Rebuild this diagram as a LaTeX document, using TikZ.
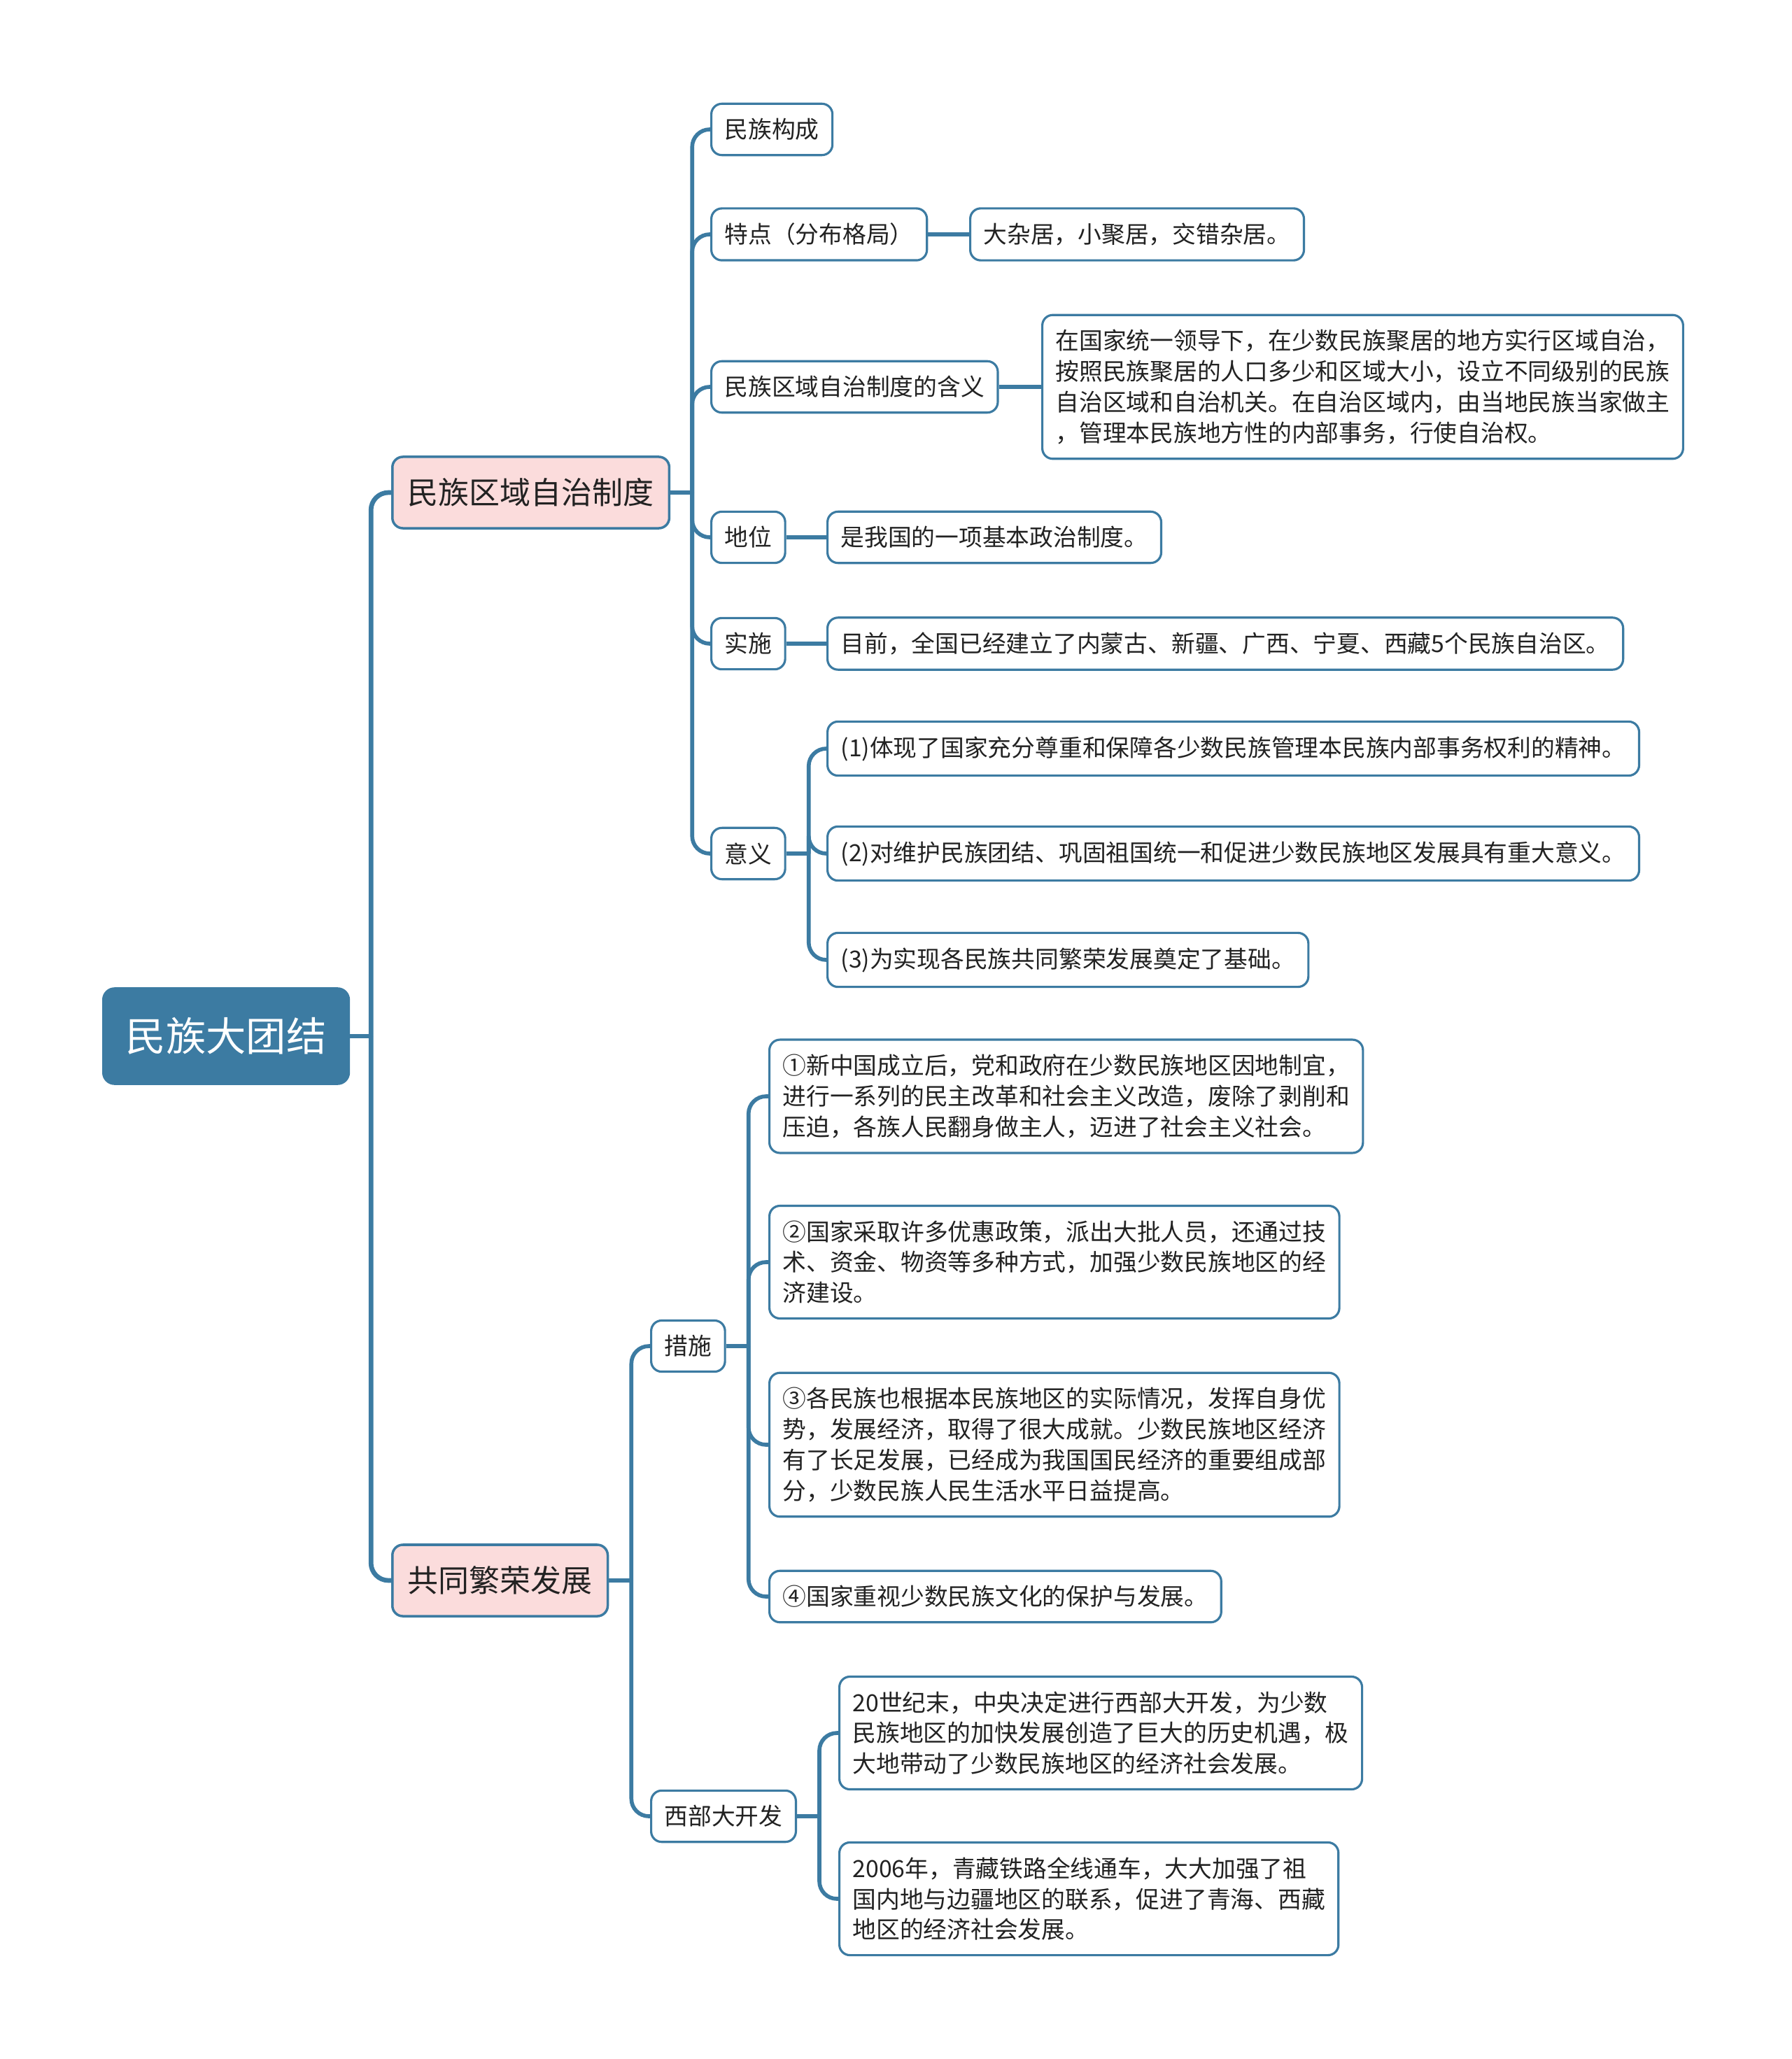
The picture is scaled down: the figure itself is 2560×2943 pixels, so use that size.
\documentclass[tikz,border=0pt]{standalone}
\usepackage{fontspec}
\setmainfont{Noto Sans CJK SC}
\usetikzlibrary{positioning}
\definecolor{mapblue}{RGB}{60,123,162}
\definecolor{mappink}{RGB}{251,220,220}
\definecolor{maptext}{RGB}{34,34,34}

\tikzset{
  rootbox/.style={draw=mapblue, fill=mapblue, text=white, rounded corners=0.16cm,
                  line width=1pt, font=\fontsize{16.3}{20}\selectfont,
                  inner xsep=0.32cm, minimum height=1.36cm, anchor=west},
  topicbox/.style={draw=mapblue, fill=mappink, text=maptext, rounded corners=0.15cm,
                   line width=1pt, font=\fontsize{12.5}{15}\selectfont,
                   inner xsep=0.22cm, minimum height=1.02cm, anchor=west},
  leafbox/.style={draw=mapblue, fill=white, text=maptext, rounded corners=0.15cm,
                  line width=0.9pt, font=\fontsize{9.6}{12.45}\selectfont,
                  inner xsep=0.19cm, inner ysep=0.21cm, align=left, anchor=west},
  link/.style={draw=mapblue, line width=1.6pt, rounded corners=0.25cm},
}

\begin{document}
\begin{tikzpicture}[x=0.01cm, y=-0.01cm]
  \useasboundingbox (0,0) rectangle (2560,2943);

  % root and main topics
  \node[rootbox] (root) at (146,1481) {民族大团结};
  \node[topicbox] (regional) at (559,704) {民族区域自治制度};
  \node[topicbox] (prosper) at (559,2259) {共同繁荣发展};

  % regional autonomy branch
  \node[leafbox] (compose) at (1015,185) {民族构成};
  \node[leafbox] (pattern) at (1015,335) {特点（分布格局）};
  \node[leafbox] (patternleaf) at (1385,335) {大杂居，小聚居，交错杂居。};
  \node[leafbox] (meaning) at (1015,553) {民族区域自治制度的含义};
  \node[leafbox] (meaningleaf) at (1488,553) {在国家统一领导下，在少数民族聚居的地方实行区域自治，\\
    按照民族聚居的人口多少和区域大小，设立不同级别的民族\\
    自治区域和自治机关。在自治区域内，由当地民族当家做主\\
    ，管理本民族地方性的内部事务，行使自治权。};
  \node[leafbox] (status) at (1015,768) {地位};
  \node[leafbox] (statusleaf) at (1181,768) {是我国的一项基本政治制度。};
  \node[leafbox] (practice) at (1015,920) {实施};
  \node[leafbox] (practiceleaf) at (1181,920) {目前，全国已经建立了内蒙古、新疆、广西、宁夏、西藏5个民族自治区。};
  \node[leafbox] (signif) at (1015,1220) {意义};
  \node[leafbox] (sigone) at (1181,1070) {(1)体现了国家充分尊重和保障各少数民族管理本民族内部事务权利的精神。};
  \node[leafbox] (sigtwo) at (1181,1220) {(2)对维护民族团结、巩固祖国统一和促进少数民族地区发展具有重大意义。};
  \node[leafbox] (sigthree) at (1181,1372) {(3)为实现各民族共同繁荣发展奠定了基础。};

  % common prosperity branch
  \node[leafbox] (measures) at (929,1924) {措施};
  \node[leafbox] (mone) at (1098,1567) {①新中国成立后，党和政府在少数民族地区因地制宜，\\
    进行一系列的民主改革和社会主义改造，废除了剥削和\\
    压迫，各族人民翻身做主人，迈进了社会主义社会。};
  \node[leafbox] (mtwo) at (1098,1804) {②国家采取许多优惠政策，派出大批人员，还通过技\\
    术、资金、物资等多种方式，加强少数民族地区的经\\
    济建设。};
  \node[leafbox] (mthree) at (1098,2065) {③各民族也根据本民族地区的实际情况，发挥自身优\\
    势，发展经济，取得了很大成就。少数民族地区经济\\
    有了长足发展，已经成为我国国民经济的重要组成部\\
    分，少数民族人民生活水平日益提高。};
  \node[leafbox] (mfour) at (1098,2282) {④国家重视少数民族文化的保护与发展。};
  \node[leafbox] (westdev) at (929,2596) {西部大开发};
  \node[leafbox] (wone) at (1198,2477) {20世纪末，中央决定进行西部大开发，为少数\\
    民族地区的加快发展创造了巨大的历史机遇，极\\
    大地带动了少数民族地区的经济社会发展。};
  \node[leafbox] (wtwo) at (1198,2714) {2006年，青藏铁路全线通车，大大加强了祖\\
    国内地与边疆地区的联系，促进了青海、西藏\\
    地区的经济社会发展。};

  % connectors
  \draw[link, line width=1.9pt] (root.east) -- ++(30,0) coordinate (rootJ);
  \foreach \c in {regional, prosper}
    \draw[link, line width=1.9pt] (rootJ) |- (\c.west);

  \draw[link] (regional.east) -- ++(31,0) coordinate (regJ);
  \foreach \c in {compose, pattern, meaning, status, practice, signif}
    \draw[link] (regJ) |- (\c.west);
  \draw[link] (pattern.east) -- (patternleaf.west);
  \draw[link] (meaning.east) -- (meaningleaf.west);
  \draw[link] (status.east) -- (statusleaf.west);
  \draw[link] (practice.east) -- (practiceleaf.west);
  \draw[link] (signif.east) -- ++(32,0) coordinate (sigJ);
  \foreach \c in {sigone, sigtwo, sigthree}
    \draw[link] (sigJ) |- (\c.west);

  \draw[link] (prosper.east) -- ++(32,0) coordinate (proJ);
  \foreach \c in {measures, westdev}
    \draw[link] (proJ) |- (\c.west);
  \draw[link] (measures.east) -- ++(32,0) coordinate (meaJ);
  \foreach \c in {mone, mtwo, mthree, mfour}
    \draw[link] (meaJ) |- (\c.west);
  \draw[link] (westdev.east) -- ++(32,0) coordinate (wesJ);
  \foreach \c in {wone, wtwo}
    \draw[link] (wesJ) |- (\c.west);
\end{tikzpicture}
\end{document}
